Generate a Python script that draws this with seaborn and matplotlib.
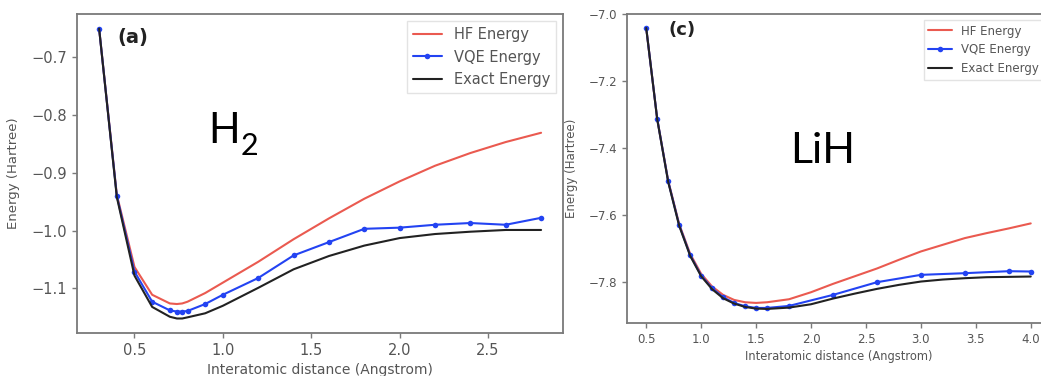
import numpy as np
import pandas as pd
import matplotlib
matplotlib.use("Agg")
import matplotlib.pyplot as plt
import seaborn as sns

# H2 curves
h2_dist = [0.3, 0.4, 0.5, 0.6, 0.7, 0.74, 0.77, 0.8, 0.9, 1.0, 1.2, 1.4, 1.6, 1.8, 2.0, 2.2, 2.4, 2.6, 2.8]
h2_hf = [-0.651, -0.938, -1.063, -1.111, -1.126, -1.127, -1.126, -1.123, -1.108, -1.090, -1.054, -1.015,
         -0.979, -0.945, -0.915, -0.888, -0.866, -0.847, -0.831]
h2_vqe = [-0.651, -0.940, -1.071, -1.123, -1.138, -1.140, -1.140, -1.139, -1.127, -1.111, -1.082, -1.043,
          -1.020, -0.997, -0.995, -0.990, -0.987, -0.990, -0.978]
h2_exact = [-0.651, -0.942, -1.078, -1.132, -1.149, -1.152, -1.152, -1.150, -1.143, -1.130, -1.099, -1.067,
            -1.044, -1.026, -1.013, -1.006, -1.002, -0.999, -0.999]

# LiH curves
lih_dist = [0.5, 0.6, 0.7, 0.8, 0.9, 1.0, 1.1, 1.2, 1.3, 1.4, 1.5, 1.6,
            1.8, 2.0, 2.2, 2.4, 2.6, 2.8, 3.0, 3.2, 3.4, 3.6, 3.8, 4.0]
lih_hf = [-7.041, -7.313, -7.498, -7.628, -7.717, -7.777, -7.815, -7.840, -7.855, -7.862, -7.864, -7.862,
          -7.853, -7.832, -7.807, -7.784, -7.761, -7.735, -7.710, -7.690, -7.670, -7.655, -7.641, -7.626]
lih_exact = [-7.041, -7.314, -7.502, -7.633, -7.723, -7.784, -7.823, -7.850, -7.866, -7.876, -7.881, -7.882,
             -7.878, -7.868, -7.851, -7.836, -7.822, -7.810, -7.800, -7.794, -7.790, -7.787, -7.786, -7.785]
lih_vqe_dist = [0.5, 0.6, 0.7, 0.8, 0.9, 1.0, 1.1, 1.2, 1.3, 1.4, 1.5, 1.6, 1.8, 2.2, 2.6, 3.0, 3.4, 3.8, 4.0]
lih_vqe = [-7.041, -7.313, -7.500, -7.631, -7.721, -7.782, -7.820, -7.847, -7.864, -7.874, -7.879, -7.879,
           -7.873, -7.840, -7.802, -7.780, -7.775, -7.769, -7.770]

sns.set_theme(style="ticks")
plt.rcParams['font.family'] = ['DejaVu Sans']

red = '#ea5a50'
blue = '#2343f2'
black = '#222222'
grey = '#555555'

fig = plt.figure(figsize=(10.41, 3.76), dpi=100)
ax1 = fig.add_axes([0.074, 0.1144, 0.467, 0.848])
ax2 = fig.add_axes([0.6023, 0.141, 0.4063, 0.822])


def draw(ax, dist, hf, vdist, vqe, exact, fs):
    sns.lineplot(x=dist, y=hf, ax=ax, color=red, lw=1.5, label='HF Energy')
    sns.lineplot(x=vdist, y=vqe, ax=ax, color=blue, lw=1.5, marker='o', markersize=4,
                 markeredgewidth=0, label='VQE Energy')
    sns.lineplot(x=dist, y=exact, ax=ax, color=black, lw=1.5, label='Exact Energy')
    for s in ax.spines.values():
        s.set_color('#7a7a7a')
        s.set_linewidth(1.3)
    ax.tick_params(colors='#7a7a7a', labelcolor=grey, labelsize=fs, length=3.5, width=1)
    leg = ax.legend(loc='upper right', fontsize=fs, frameon=True, fancybox=False)
    leg.get_frame().set_edgecolor('#dddddd')
    for t in leg.get_texts():
        t.set_color(grey)


draw(ax1, h2_dist, h2_hf, h2_dist, h2_vqe, h2_exact, 10.5)
ax1.set_xlabel('Interatomic distance (Angstrom)', fontsize=10, color=grey, labelpad=4)
ax1.set_ylabel('Energy (Hartree)', fontsize=9.5, color=grey, labelpad=8)
ax1.set_xticks([0.5, 1.0, 1.5, 2.0, 2.5])
ax1.set_yticks([-0.7, -0.8, -0.9, -1.0, -1.1])

draw(ax2, lih_dist, lih_hf, lih_vqe_dist, lih_vqe, lih_exact, 8.5)
ax2.set_xlabel('Interatomic distance (Angstrom)', fontsize=8.3, color=grey, labelpad=3)
ax2.set_ylabel('Energy (Hartree)', fontsize=8.5, color=grey, labelpad=8)
ax2.set_xticks([0.5, 1.0, 1.5, 2.0, 2.5, 3.0, 3.5, 4.0])
ax2.set_yticks([-7.0, -7.2, -7.4, -7.6, -7.8])

fig.text(117 / 1041, 1 - 38 / 376, '(a)', fontsize=14, fontweight='bold', color='#222222', va='center')
fig.text(668 / 1041, 1 - 30 / 376, '(c)', fontsize=13, fontweight='bold', color='#222222', va='center')

fig.text(208 / 1041, 1 - 143 / 376, 'H', fontsize=30, family='Lato', color='black', va='baseline')
fig.text(241 / 1041, 1 - 155 / 376, '2', fontsize=22, family='Lato', color='black', va='baseline')
fig.text(790 / 1041, 1 - 163 / 376, 'LiH', fontsize=31, family='Lato', color='black', va='baseline')

fig.savefig('out.png', dpi=100)
